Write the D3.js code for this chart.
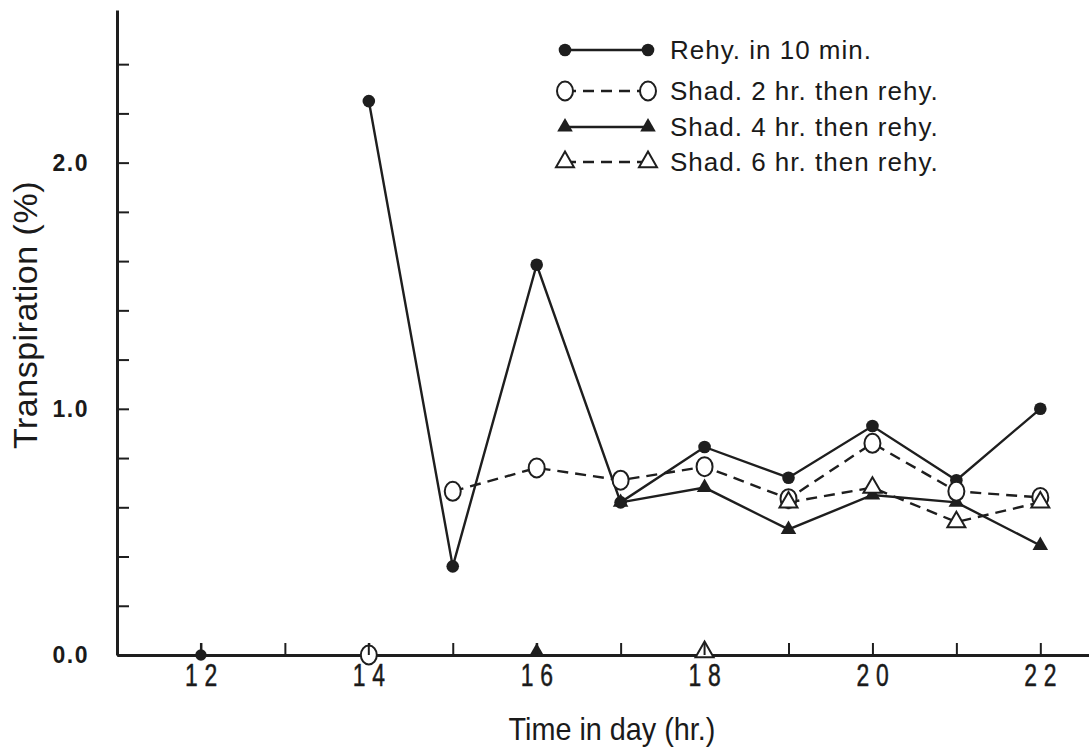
<!DOCTYPE html>
<html>
<head>
<meta charset="utf-8">
<script src="https://cdn.jsdelivr.net/npm/d3@7"></script>
<style>
  html, body { margin: 0; padding: 0; background: #fff; }
  svg { display: block; }
  text { font-family: "Liberation Sans", Arial, Helvetica, sans-serif; fill: #1a1a1a; }
</style>
</head>
<body>
<svg id="chart" width="1089" height="749"></svg>
<script>
// ---- data ----
const rehyHours = [14, 15, 16, 17, 18, 19, 20, 21, 22];
const rehyValues = [2.25, 0.36, 1.585, 0.62, 0.845, 0.72, 0.93, 0.71, 1.0];

const shad2Hours = [15, 16, 17, 18, 19, 20, 21, 22];
const shad2Values = [0.665, 0.76, 0.71, 0.765, 0.635, 0.86, 0.665, 0.64];

const shad4Hours = [17, 18, 19, 20, 21, 22];
const shad4Values = [0.62, 0.68, 0.51, 0.65, 0.62, 0.445];

const shad6Hours = [19, 20, 21, 22];
const shad6Values = [0.62, 0.68, 0.54, 0.62];

// start-of-treatment markers on the time axis
const startHours = [12, 14, 16, 18];
const startValues = [0, 0, 0, 0];

const seriesNames = ["Rehy. in 10 min.", "Shad. 2 hr. then rehy.", "Shad. 4 hr. then rehy.", "Shad. 6 hr. then rehy."];
const xTickValues = [12, 13, 14, 15, 16, 17, 18, 19, 20, 21, 22];
const xTickLabels = [12, 14, 16, 18, 20, 22];
const yTickValues = [0.2, 0.4, 0.6, 0.8, 1.0, 1.2, 1.4, 1.6, 1.8, 2.0, 2.2, 2.4];
const yTickLabels = [0.0, 1.0, 2.0];
const xTitle = "Time in day (hr.)";
const yTitle = "Transpiration (%)";

// ---- layout ----
const svg = d3.select("#chart");
const ink = "#1e1e1e";
const x = d3.scaleLinear().domain([11, 22.58]).range([117, 1089]);
const y = d3.scaleLinear().domain([0, 2.62]).range([655, 10]);

const series = [
  { name: seriesNames[0], hours: rehyHours, values: rehyValues, marker: "dot", dash: null },
  { name: seriesNames[1], hours: shad2Hours, values: shad2Values, marker: "ocircle", dash: "11,7" },
  { name: seriesNames[2], hours: shad4Hours, values: shad4Values, marker: "ftri", dash: null },
  { name: seriesNames[3], hours: shad6Hours, values: shad6Values, marker: "otri", dash: "11,7" }
];

function drawMarker(g, type, cx, cy, scale) {
  const k = scale || 1;
  if (type === "dot") {
    g.append("circle").attr("cx", cx).attr("cy", cy).attr("r", 6.3 * k).attr("fill", ink);
  } else if (type === "ocircle") {
    g.append("ellipse").attr("cx", cx).attr("cy", cy).attr("rx", 8 * k).attr("ry", 9.5 * k)
      .attr("fill", "#fff").attr("stroke", ink).attr("stroke-width", 2);
  } else if (type === "ftri") {
    g.append("path").attr("d", d3.symbol(d3.symbolTriangle, 105 * k * k)())
      .attr("transform", `translate(${cx},${cy})`).attr("fill", ink);
  } else if (type === "otri") {
    g.append("path").attr("d", d3.symbol(d3.symbolTriangle, 140 * k * k)())
      .attr("transform", `translate(${cx},${cy})`).attr("fill", "#fff")
      .attr("stroke", ink).attr("stroke-width", 2);
  }
}

// ---- axes ----
const yAxis = d3.axisLeft(y)
  .tickValues(yTickValues.concat(yTickLabels.filter(v => !yTickValues.includes(v))))
  .tickSizeInner(-12).tickSizeOuter(0).tickPadding(28)
  .tickFormat(d => yTickLabels.some(v => Math.abs(v - d) < 1e-9) ? d3.format(".1f")(d) : "");
const gy = svg.append("g").attr("transform", `translate(${x(11)},0)`).call(yAxis);
gy.attr("font-size", null).attr("font-family", null);
gy.select(".domain").attr("stroke", ink).attr("stroke-width", 3);
gy.selectAll(".tick line").attr("stroke", ink).attr("stroke-width", 2);
gy.selectAll(".tick text").attr("font-size", 23).attr("letter-spacing", "1.5px")
  .attr("font-weight", "bold").attr("fill", ink);

const xAxis = d3.axisBottom(x).tickValues(xTickValues)
  .tickSizeInner(-12).tickSizeOuter(0).tickPadding(30)
  .tickFormat(d => xTickLabels.includes(d) ? String(d) : "");
const gx = svg.append("g").attr("transform", `translate(0,${y(0)})`).call(xAxis);
gx.attr("font-size", null).attr("font-family", null);
gx.select(".domain").attr("stroke", ink).attr("stroke-width", 3);
gx.selectAll(".tick line").attr("stroke", ink).attr("stroke-width", 2);
gx.selectAll(".tick text").attr("font-size", 31).attr("letter-spacing", "9px")
  .attr("fill", ink).attr("stroke", ink).attr("stroke-width", 0.5)
  .attr("dy", 0).attr("y", 31)
  .attr("transform", "scale(0.74,1) translate(4,0)");

// ---- titles ----
svg.append("text").attr("x", 612).attr("y", 740).attr("text-anchor", "middle")
  .attr("font-size", 32).attr("transform", "translate(612,0) scale(0.9,1) translate(-612,0)")
  .attr("fill", ink).text(xTitle);
svg.append("text").attr("transform", "translate(37,315) rotate(-90)")
  .attr("text-anchor", "middle").attr("font-size", 34).attr("letter-spacing", "0.5px")
  .attr("fill", ink).text(yTitle);

// ---- lines & markers ----
const line = d3.line().x(d => x(d[0])).y(d => y(d[1]));
const plot = svg.append("g");
series.forEach(s => {
  const pts = s.hours.map((h, i) => [h, s.values[i]]);
  plot.append("path").datum(pts).attr("d", line).attr("fill", "none")
    .attr("stroke", ink).attr("stroke-width", 2.4)
    .attr("stroke-dasharray", s.dash);
});
const marks = svg.append("g");
[0, 2, 1, 3].forEach(k => {
  const s = series[k];
  s.hours.forEach((h, i) => drawMarker(marks, s.marker, x(h), y(s.values[i])));
});
// start markers on the time axis
startHours.forEach((h, i) => {
  drawMarker(marks, series[i].marker, x(h), y(startValues[i]) + (i >= 2 ? -3 : 0), i === 0 ? 0.9 : 1);
});
// tick line through the start markers (as in the original)
startHours.forEach(h => {
  marks.append("line").attr("x1", x(h)).attr("x2", x(h)).attr("y1", y(0)).attr("y2", y(0) - 12)
    .attr("stroke", ink).attr("stroke-width", 2);
});

// ---- legend ----
const legendRows = [50, 91, 127, 162];
const lg = svg.append("g");
series.forEach((s, i) => {
  const ly = legendRows[i];
  lg.append("line").attr("x1", 565).attr("x2", 648).attr("y1", ly).attr("y2", ly)
    .attr("stroke", ink).attr("stroke-width", 2.4).attr("stroke-dasharray", s.dash);
  drawMarker(lg, s.marker, 565, ly);
  drawMarker(lg, s.marker, 648, ly);
  lg.append("text").attr("x", 670).attr("y", ly).attr("dy", "0.36em")
    .attr("font-size", 26).attr("letter-spacing", "1px").attr("fill", ink).text(s.name);
});
</script>
</body>
</html>
